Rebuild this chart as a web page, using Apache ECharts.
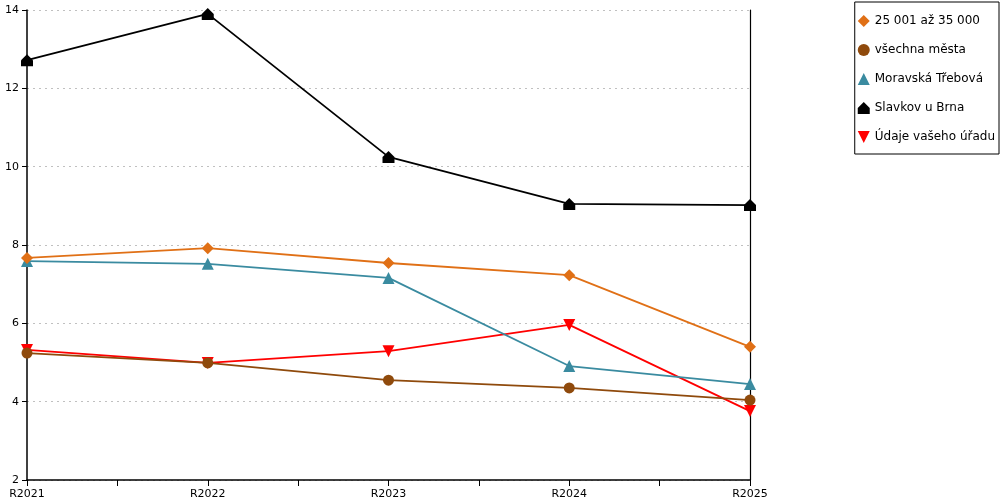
<!DOCTYPE html>
<html>
<head>
<meta charset="utf-8">
<script src="https://cdn.jsdelivr.net/npm/echarts@6/dist/echarts.min.js"></script>
<style>
html, body { margin: 0; padding: 0; background: #fff; }
#chart { width: 1000px; height: 500px; }
</style>
</head>
<body>
<div id="chart"></div>
<script>
var years = ["R2021", "R2022", "R2023", "R2024", "R2025"];
var yTicks = [2, 4, 6, 8, 10, 12, 14];
var seriesNames = ["25 001 až 35 000", "všechna města", "Moravská Třebová", "Slavkov u Brna", "Údaje vašeho úřadu"];
var velikost = [7.67, 7.92, 7.54, 7.23, 5.40];
var vsechnaMesta = [5.24, 4.99, 4.55, 4.35, 4.04];
var moravska = [7.59, 7.52, 7.16, 4.91, 4.45];
var slavkov = [12.72, 13.90, 10.25, 9.05, 9.02];
var vasUrad = [5.32, 4.99, 5.29, 5.96, 3.76];

var colorList = ["#E07016", "#8F4A0C", "#3A8BA0", "#000000", "#FF0000"];
var houseSymbol = "path://M0,5 L5,0 L10,5 L10,10 L0,10 Z";
var symbols = ["diamond", "circle", "triangle", houseSymbol, "path://M0,0 L10,0 L5,10 Z"];
var symbolSizes = [12, 11, 12, 12, 12];
var allData = [velikost, vsechnaMesta, moravska, slavkov, vasUrad];

var chart = echarts.init(document.getElementById("chart"));

var seriesList = [];
for (var i = 0; i < allData.length; i++) {
	var pts = [];
	for (var k = 0; k < years.length; k++) {
		pts.push([k, allData[i][k]]);
	}
	seriesList.push({
		name: seriesNames[i],
		type: "line",
		data: pts,
		symbol: symbols[i],
		symbolSize: symbolSizes[i],
		showAllSymbol: true,
		lineStyle: { color: colorList[i], width: 1.8 },
		itemStyle: { color: colorList[i] },
		z: 10 - i
	});
}

var fontName = "DejaVu Sans";

chart.setOption({
	animation: false,
	textStyle: { fontFamily: fontName },
	grid: { left: 27, right: 250, top: 10, bottom: 20, containLabel: false },
	legend: {
		orient: "vertical",
		right: 1,
		top: 2,
		padding: [13, 4, 11, 3],
		itemGap: 17,
		itemWidth: 12,
		itemHeight: 12,
		borderColor: "#000",
		borderWidth: 1,
		textStyle: { fontFamily: fontName, fontSize: 12, color: "#000" },
		data: seriesNames.map(function (n, i) {
			return { name: n, icon: symbols[i], itemStyle: { color: colorList[i] } };
		})
	},
	xAxis: {
		type: "value",
		min: 0,
		max: years.length - 1,
		interval: 0.5,
		axisLine: { lineStyle: { color: "#000", width: 1.5 } },
		axisTick: { show: true, length: 6, lineStyle: { color: "#000" } },
		splitLine: { show: false },
		axisLabel: {
			color: "#000",
			fontSize: 11,
			margin: 9,
			showMinLabel: true,
			showMaxLabel: true,
			formatter: function (v) {
				return Number.isInteger(v) ? years[v] : "";
			}
		}
	},
	yAxis: [{
		type: "value",
		min: yTicks[0],
		max: yTicks[yTicks.length - 1],
		interval: 2,
		axisLine: { show: true, lineStyle: { color: "#000", width: 1.5 } },
		axisTick: { show: true, length: 5, lineStyle: { color: "#000" } },
		axisLabel: { color: "#000", fontSize: 11, margin: 8 },
		splitLine: { show: true, lineStyle: { color: "#c0c0c0", type: [2, 4] } }
	}, {
		type: "value",
		min: yTicks[0],
		max: yTicks[yTicks.length - 1],
		interval: 2,
		position: "right",
		axisLine: { show: true, lineStyle: { color: "#000", width: 1.2 } },
		axisTick: { show: false },
		axisLabel: { show: false },
		splitLine: { show: false }
	}],
	series: seriesList
});
</script>
</body>
</html>
